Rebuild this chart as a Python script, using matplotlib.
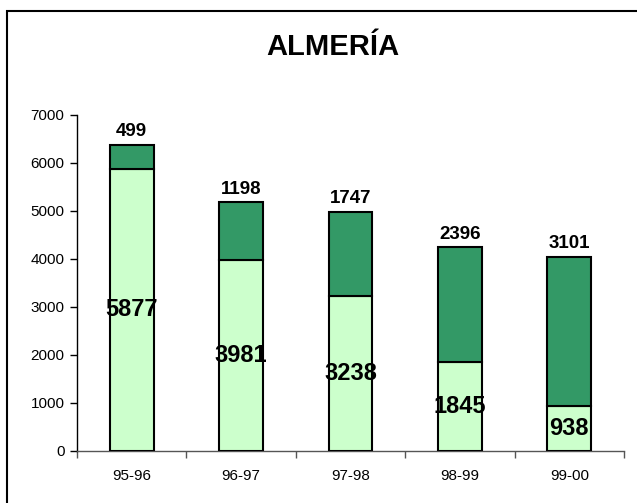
import matplotlib

matplotlib.use("Agg")

import matplotlib.pyplot as plt
from matplotlib.patches import Rectangle

plt.rcParams["font.family"] = ["Liberation Sans", "DejaVu Sans"]

seasons = ["95-96", "96-97", "97-98", "98-99", "99-00"]
lower_values = [5877, 3981, 3238, 1845, 938]
upper_values = [499, 1198, 1747, 2396, 3101]

figure = plt.figure(figsize=(6.37, 5.03), dpi=100)
axis = figure.add_axes([0.1209, 0.1034, 0.8587, 0.668])

positions = range(len(seasons))
axis.bar(positions, lower_values, width=0.4, color="#CCFFCC",
         edgecolor="black", linewidth=1.5, zorder=3)
axis.bar(positions, upper_values, width=0.4, bottom=lower_values,
         color="#339966", edgecolor="black", linewidth=1.5, zorder=3)

for pos, low, up in zip(positions, lower_values, upper_values):
    axis.text(pos, low / 2, str(low), ha="center", va="center",
              fontsize=17, fontweight="bold", zorder=4)
    axis.text(pos, low + up + 100, str(up), ha="center", va="bottom",
              fontsize=13.5, fontweight="bold", zorder=4)

axis.set_xlim(-0.5, len(seasons) - 0.5)
axis.set_ylim(0, 7000)
axis.set_yticks(range(0, 7001, 1000))
axis.set_xticks(list(positions))
axis.set_xticklabels(seasons)
axis.set_xticks([p - 0.5 for p in range(len(seasons) + 1)], minor=True)
axis.tick_params(axis="x", which="major", length=0, pad=13, labelsize=11)
axis.tick_params(axis="x", which="minor", length=5, width=1, color="#555555")
axis.tick_params(axis="y", length=5, width=1, labelsize=11, pad=4)
axis.spines["top"].set_visible(False)
axis.spines["right"].set_visible(False)
axis.spines["bottom"].set_color("#555555")
axis.spines["left"].set_linewidth(1)
axis.spines["bottom"].set_linewidth(1)

figure.text(0.523, 0.907, "ALMERÍA", ha="center", va="center",
            fontsize=21, fontweight="bold")

figure.patches.append(Rectangle((7 / 637, -0.1), 1.2, 1 - 11 / 503 + 0.1,
                                transform=figure.transFigure, fill=False,
                                edgecolor="black", linewidth=1.5))

figure.savefig("out.png", dpi=100)
plt.close(figure)
